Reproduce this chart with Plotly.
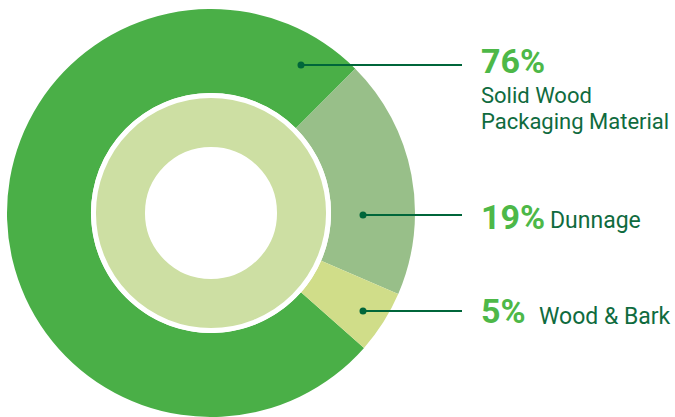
import plotly.graph_objects as go

# ---- data ----
labels = ["Solid Wood Packaging Material", "Dunnage", "Wood & Bark"]
values = [76, 19, 5]
pct_labels = ["76%", "19%", "5%"]
name_lines = [["Solid Wood", "Packaging Material"], ["Dunnage"], ["Wood & Bark"]]
colors = ["#4aaf47", "#98bf89", "#d0dd89"]
inner_values = [100]

# ---- layout geometry (pixels) ----
W, H = 675, 417
cx, cy = 211, 213
R_out = 204
R_in = 117.5
R_hole = 63.5

PCT_COLOR = "#4db848"
TXT_COLOR = "#0f6b3e"
LINE_COLOR = "#00663a"
FONT = "Roboto"

fig = go.Figure()

fig.add_trace(go.Pie(
    labels=labels, values=values, sort=False, direction="clockwise",
    rotation=131.4, hole=120 / R_out,
    marker=dict(colors=colors, line=dict(width=0)),
    textinfo="none", hoverinfo="label+percent", showlegend=False,
    domain=dict(x=[(cx - R_out) / W, (cx + R_out) / W],
                y=[max(0, (H - cy - R_out) / H), (H - cy + R_out) / H]),
))

fig.add_trace(go.Pie(
    labels=["All"], values=inner_values, hole=R_hole / R_in,
    marker=dict(colors=["#cddfa3"], line=dict(width=5, color="white")),
    textinfo="none", hoverinfo="skip", showlegend=False,
    domain=dict(x=[(cx - R_in) / W, (cx + R_in) / W],
                y=[(H - cy - R_in) / H, (H - cy + R_in) / H]),
))

# invisible anchor trace so the pixel axes exist
fig.add_trace(go.Scatter(x=[0, W], y=[0, H], mode="markers",
                         marker=dict(opacity=0), hoverinfo="skip", showlegend=False))

# leader lines with dots (drawn above the pies)
lead_x0 = [301, 363, 363]
lead_y = [65, 215, 311]
lead_x1 = 462
dot_r = 3.5
for x0, y in zip(lead_x0, lead_y):
    fig.add_shape(type="line", x0=x0, x1=lead_x1, y0=y, y1=y, xref="x", yref="y",
                  line=dict(color=LINE_COLOR, width=2), layer="above")
    fig.add_shape(type="circle", x0=x0 - dot_r, x1=x0 + dot_r, y0=y - dot_r, y1=y + dot_r,
                  xref="x", yref="y", fillcolor=LINE_COLOR, line=dict(width=0), layer="above")

# text
pct_x = 479
pct_y = [61, 217, 311]
label_pos = [[(479, 95), (479, 121)], [(548, 220)], [(537, 316)]]
label_size = [22, 23, 23]
for p, py, lines, pos, ls in zip(pct_labels, pct_y, name_lines, label_pos, label_size):
    fig.add_annotation(x=pct_x, y=py, xref="x", yref="y", text="<b>" + p + "</b>",
                       showarrow=False, xanchor="left", yanchor="middle",
                       font=dict(family=FONT, size=34, color=PCT_COLOR))
    for t, (tx, ty) in zip(lines, pos):
        fig.add_annotation(x=tx, y=ty, xref="x", yref="y", text=t,
                           showarrow=False, xanchor="left", yanchor="middle",
                           font=dict(family=FONT, size=ls, color=TXT_COLOR))

fig.update_layout(
    width=W, height=H, margin=dict(l=0, r=0, t=0, b=0),
    paper_bgcolor="white", plot_bgcolor="rgba(0,0,0,0)",
    xaxis=dict(range=[0, W], visible=False, domain=[0, 1], fixedrange=True),
    yaxis=dict(range=[H, 0], visible=False, domain=[0, 1], fixedrange=True),
    font=dict(family=FONT),
)

fig.write_html("out.html", config={"displayModeBar": False},
               post_script="document.body.style.margin='0';")
